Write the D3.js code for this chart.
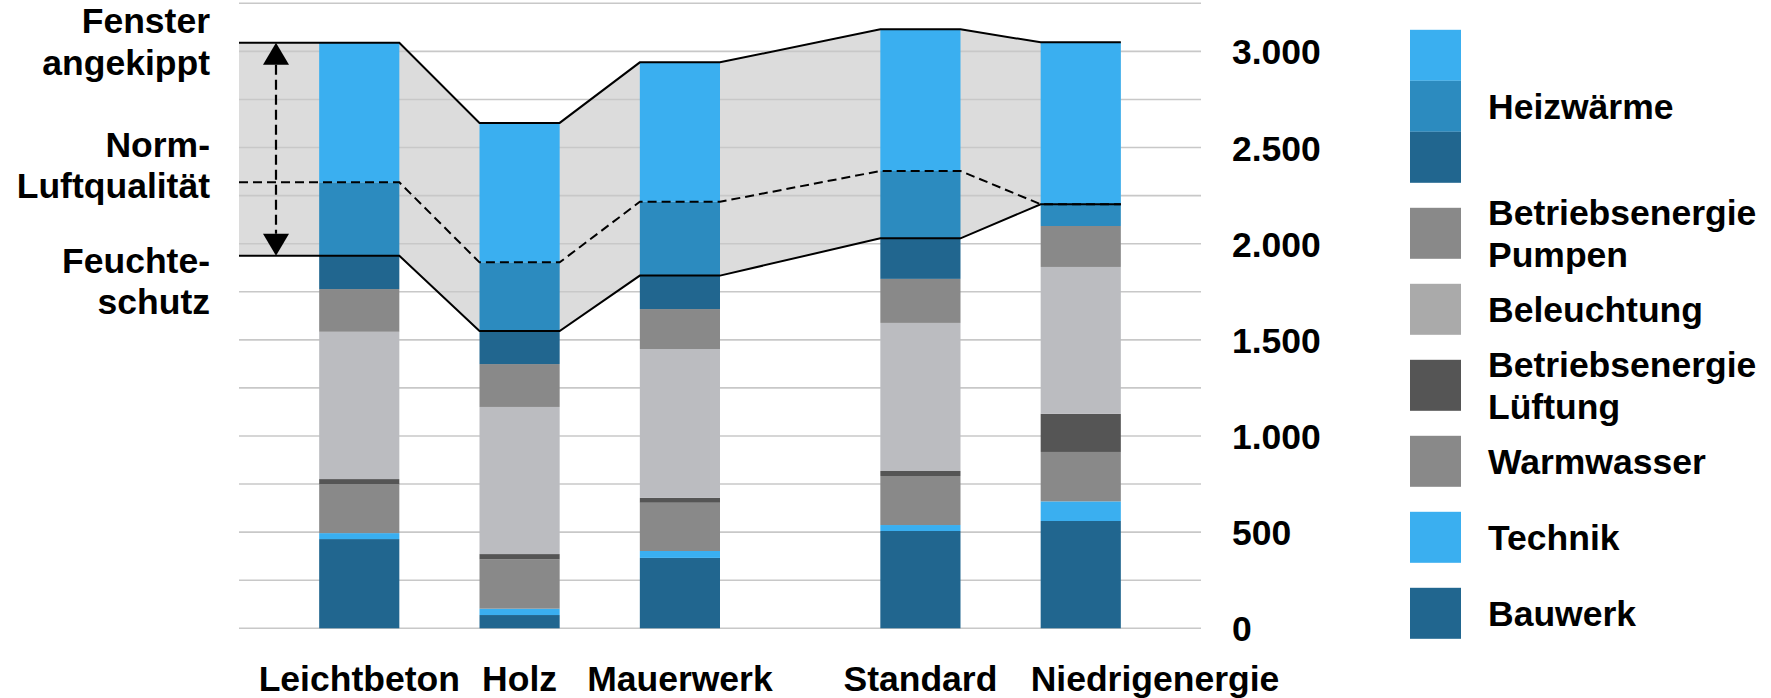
<!DOCTYPE html>
<html>
<head>
<meta charset="utf-8">
<script src="https://cdn.jsdelivr.net/npm/d3@7"></script>
<style>
  html, body { margin: 0; padding: 0; background: #fff; }
  svg { display: block; }
  text { font-family: "Liberation Sans", Arial, sans-serif; font-weight: bold; fill: #000; }
</style>
</head>
<body>
<svg id="chart" width="1771" height="698"></svg>
<script>
// ---------------- DATA ----------------
const categories = ["Leichtbeton", "Holz", "Mauerwerk", "Standard", "Niedrigenergie"];

// stacked segments, bottom to top
const bauwerk     = [464, 69, 366, 506, 558];
const technik     = [31, 33, 36, 31, 102];
const warmwasser  = [254, 257, 251, 255, 257];
const lueftung    = [27, 27, 25, 26, 198];
const beleuchtung = [766, 765, 774, 770, 764];
const pumpen      = [222, 223, 208, 229, 213];
const heizDunkel  = [173, 172, 174, 211, 0];
const heizMittel  = [382, 357, 384, 350, 113];
const heizHell    = [726, 725, 725, 737, 842];

// level lines (Feuchteschutz / Norm-Luftqualität / Fenster angekippt)
const linieFenster  = [3045, 2628, 2943, 3115, 3047];
const linieNorm     = [2319, 1903, 2218, 2378, 2205];
const linieFeuchte  = [1937, 1546, 1834, 2028, 2205];

const yTicks = [0, 500, 1000, 1500, 2000, 2500, 3000];
const gridStep = 250;
const yMax = 3250;

const legendLabels = [["Heizwärme"], ["Betriebsenergie", "Pumpen"], ["Beleuchtung"],
                      ["Betriebsenergie", "Lüftung"], ["Warmwasser"], ["Technik"], ["Bauwerk"]];
const annotLabels = [["Fenster", "angekippt"], ["Norm-", "Luftqualität"], ["Feuchte-", "schutz"]];

// ---------------- STYLE / LAYOUT ----------------
const C = {
  hell: "#3AAFF0", mittel: "#2C8BBF", dunkel: "#21668F",
  grau: "#898989", hellgrau: "#BBBCC0", legHellgrau: "#AAAAAA", dunkelgrau: "#555555",
  band: "#DCDCDC", grid: "#C8C8C8"
};
const FS = 35.5;
const plotLeft = 239, plotRight = 1201, plotTop = 3.3, plotBottom = 628.3;

const svg = d3.select("#chart");

// x: slot band scale with spacer slots between groups
const gapsBefore = [1, 1, 1, 2, 1];
const slots = [];
categories.forEach((c, i) => {
  for (let g = 0; g < gapsBefore[i]; g++) slots.push("_gap" + i + "_" + g);
  slots.push(c);
});
slots.push("_gapEnd");
const x = d3.scaleBand().domain(slots).range([plotLeft, plotRight]).padding(0);
const y = d3.scaleLinear().domain([0, yMax]).range([plotBottom, plotTop]);

// table for stack
const keys = ["bauwerk", "technik", "warmwasser", "lueftung", "beleuchtung", "pumpen", "heizDunkel", "heizMittel", "heizHell"];
const series = { bauwerk, technik, warmwasser, lueftung, beleuchtung, pumpen, heizDunkel, heizMittel, heizHell };
const colors = { bauwerk: C.dunkel, technik: C.hell, warmwasser: C.grau, lueftung: C.dunkelgrau,
                 beleuchtung: C.hellgrau, pumpen: C.grau, heizDunkel: C.dunkel, heizMittel: C.mittel, heizHell: C.hell };
const table = categories.map((c, i) => {
  const row = { cat: c };
  keys.forEach(k => row[k] = series[k][i]);
  return row;
});
const stacked = d3.stack().keys(keys)(table);

// ---------- band area ----------
function linePoints(vals) {
  const pts = [[plotLeft, vals[0]]];
  categories.forEach((c, i) => {
    pts.push([x(c), vals[i]]);
    pts.push([x(c) + x.bandwidth(), vals[i]]);
  });
  return pts;
}
const upperPts = linePoints(linieFenster);
const lowerPts = linePoints(linieFeuchte);
const areaPts = upperPts.map((p, i) => ({ x: p[0], top: p[1], bot: lowerPts[i][1] }));

svg.append("path")
  .datum(areaPts)
  .attr("fill", C.band)
  .attr("d", d3.area().x(d => d.x).y0(d => y(d.bot)).y1(d => y(d.top)));

// ---------- gridlines ----------
svg.append("g").selectAll("line")
  .data(d3.range(0, yMax + 1, gridStep))
  .join("line")
  .attr("x1", plotLeft).attr("x2", plotRight)
  .attr("y1", d => y(d)).attr("y2", d => y(d))
  .attr("stroke", C.grid).attr("stroke-width", 1.6);

// ---------- bars ----------
svg.append("g").selectAll("g")
  .data(stacked)
  .join("g")
  .attr("fill", d => colors[d.key])
  .selectAll("rect")
  .data(d => d)
  .join("rect")
  .attr("x", d => x(d.data.cat))
  .attr("width", x.bandwidth())
  .attr("y", d => y(d[1]))
  .attr("height", d => Math.max(0, y(d[0]) - y(d[1])));

// ---------- level lines ----------
const lineGen = d3.line().x(d => d[0]).y(d => y(d[1]));
svg.append("path").datum(upperPts).attr("d", lineGen)
  .attr("fill", "none").attr("stroke", "#000").attr("stroke-width", 2);
svg.append("path").datum(lowerPts).attr("d", lineGen)
  .attr("fill", "none").attr("stroke", "#000").attr("stroke-width", 2);
svg.append("path").datum(linePoints(linieNorm)).attr("d", lineGen)
  .attr("fill", "none").attr("stroke", "#000").attr("stroke-width", 2)
  .attr("stroke-dasharray", "9,5");

// ---------- double arrow ----------
const ax = plotLeft + 37;
const yTop = y(linieFenster[0]), yBot = y(linieFeuchte[0]);
const ah = 22, aw = 13;
svg.append("line")
  .attr("x1", ax).attr("x2", ax)
  .attr("y1", yTop + ah).attr("y2", yBot - ah)
  .attr("stroke", "#000").attr("stroke-width", 2.2).attr("stroke-dasharray", "10,5");
svg.append("path")
  .attr("d", `M${ax},${yTop} L${ax - aw},${yTop + ah} L${ax + aw},${yTop + ah} Z`)
  .attr("fill", "#000");
svg.append("path")
  .attr("d", `M${ax},${yBot} L${ax - aw},${yBot - ah} L${ax + aw},${yBot - ah} Z`)
  .attr("fill", "#000");

// ---------- annotation labels (left) ----------
const annotLevels = [linieFenster[0], linieNorm[0], linieFeuchte[0]];
const annotOffsets = [-9.5, -25.5, 17];
const annot = svg.append("g").attr("text-anchor", "end").style("font-size", FS + "px");
annotLabels.forEach((lines, i) => {
  const t = annot.append("text").attr("x", 210).attr("y", y(annotLevels[i]) + annotOffsets[i]);
  lines.forEach((l, j) => t.append("tspan").attr("x", 210).attr("dy", j === 0 ? 0 : 41.5).text(l));
});

// ---------- y axis (right) ----------
const loc = d3.formatLocale({ decimal: ",", thousands: ".", grouping: [3], currency: ["", "€"] });
const fmt = loc.format(",");
const yAxis = svg.append("g")
  .attr("transform", `translate(1232,0)`)
  .call(d3.axisRight(y).tickValues(yTicks).tickFormat(fmt).tickSize(0).tickPadding(0));
yAxis.select(".domain").remove();
yAxis.selectAll("text")
  .attr("dy", "0.355em")
  .style("font-size", FS + "px")
  .style("font-family", "'Liberation Sans', Arial, sans-serif")
  .style("font-weight", "bold")
  .attr("fill", "#000");

// ---------- x axis (category labels) ----------
const xAxis = svg.append("g")
  .attr("transform", `translate(0,${plotBottom})`)
  .call(d3.axisBottom(x).tickValues(categories).tickSize(0).tickPadding(37.5));
xAxis.select(".domain").remove();
xAxis.selectAll("text")
  .style("font-size", FS + "px")
  .style("font-family", "'Liberation Sans', Arial, sans-serif")
  .style("font-weight", "bold")
  .attr("fill", "#000");
xAxis.selectAll("text").filter(d => d === categories[categories.length - 1])
  .attr("text-anchor", "start")
  .attr("x", -x.bandwidth() / 2 - 10);

// ---------- legend ----------
const legendSwatches = [
  [C.hell, C.mittel, C.dunkel], [C.grau], [C.legHellgrau], [C.dunkelgrau], [C.grau], [C.hell], [C.dunkel]
];
const sw = 51, sh = 51, gap = 25, lx = 1410, ltx = 1488, lh = 42.5;
let ly = 29.8;
const leg = svg.append("g").style("font-size", FS + "px");
legendLabels.forEach((lines, i) => {
  const cols = legendSwatches[i];
  cols.forEach((c, j) => {
    leg.append("rect").attr("x", lx).attr("y", ly + j * sh).attr("width", sw).attr("height", sh).attr("fill", c);
  });
  const h = cols.length * sh;
  const cy = ly + h / 2;
  const t = leg.append("text").attr("x", ltx).attr("y", cy + 12.5 - (lines.length - 1) * lh / 2);
  lines.forEach((l, j) => t.append("tspan").attr("x", ltx).attr("dy", j === 0 ? 0 : lh).text(l));
  ly += h + gap;
});
</script>
</body>
</html>
